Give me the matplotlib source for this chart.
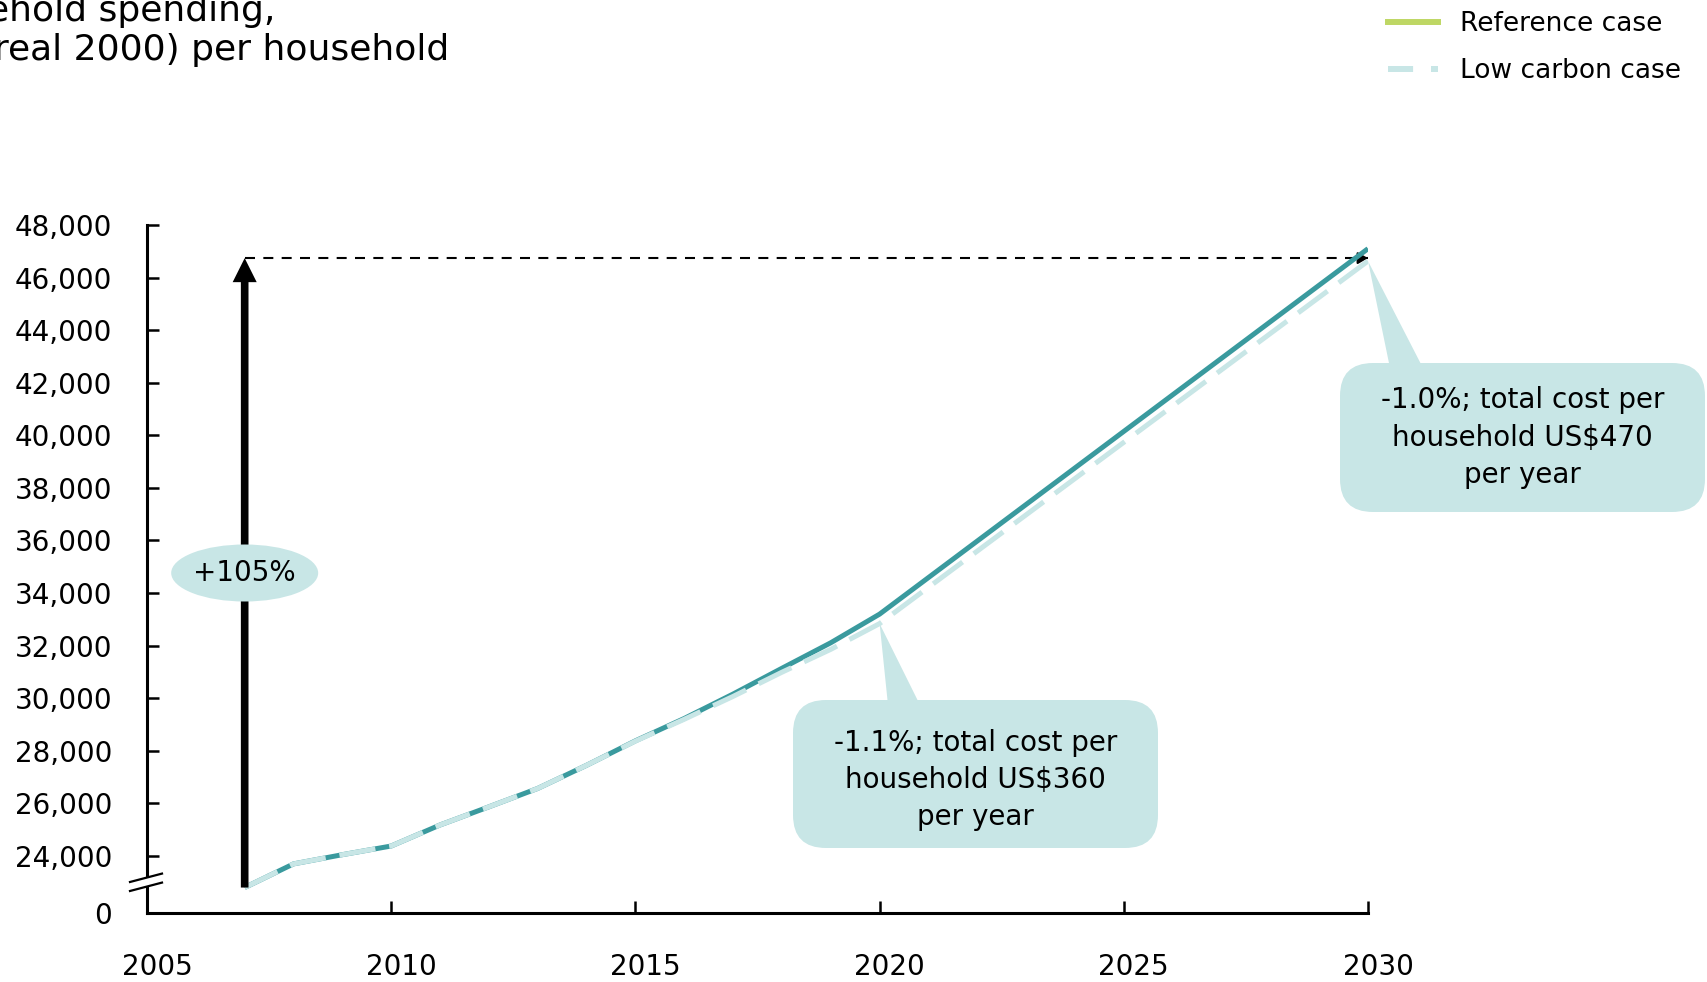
"""Household spending per household: reference vs low carbon case"""
import matplotlib
matplotlib.use('Agg')
import matplotlib.pyplot as plt
import matplotlib.transforms as mtransforms
from matplotlib.lines import Line2D
from matplotlib.patches import FancyBboxPatch, Ellipse, Polygon

# US$ (real 2000) per household
years = [2007, 2008, 2009, 2010, 2011, 2012, 2013, 2014, 2015, 2016, 2017, 2018, 2019, 2020, 2030]
reference = [22800, 23700, 24050, 24380, 25180, 25870, 26570, 27450, 28380, 29230, 30160, 31140, 32110, 33200, 47100]
low_carbon = [22800, 23700, 24050, 24380, 25180, 25870, 26570, 27450, 28370, 29200, 30070, 30990, 31860, 32840, 46630]
growth_pct = 105
callout_years = [2020, 2030]

ytick_values = list(range(24000, 48001, 2000))
xtick_values = [2005, 2010, 2015, 2020, 2025, 2030]
y_floor = 21832      # where the "0" sits below the axis break
y_break = 23000

TEAL = '#3a9a9e'
LIGHT = '#c8e6e6'
GREEN = '#bed764'

W, H, DPI = 1708, 982, 100
fig = plt.figure(figsize=(W / DPI, H / DPI), dpi=DPI)
ax = fig.add_axes([147 / W, 1 - 913 / H, (1368 - 147) / W, (913 - 225) / H])
ax.set_xlim(2005, 2030)
ax.set_ylim(y_floor, 48000)

for side in ('top', 'right'):
    ax.spines[side].set_visible(False)
for side in ('left', 'bottom'):
    ax.spines[side].set_linewidth(2.2)

ax.set_yticks([y_floor] + ytick_values)
ax.set_yticklabels(['0'] + ['{:,}'.format(v) for v in ytick_values])
ax.set_xticks(xtick_values)
ax.set_xticklabels([str(v) for v in xtick_values])
ax.tick_params(axis='y', direction='in', length=8.6, width=1.8, pad=25, labelsize=20)
ax.tick_params(axis='x', direction='in', length=8.6, width=1.8, pad=29, labelsize=20)
shift = mtransforms.ScaledTranslation(10 / DPI, 0, fig.dpi_scale_trans)
for lab in ax.get_xticklabels():
    lab.set_transform(lab.get_transform() + shift)


def px_to_data(px, py):
    """pixel position (from top-left of the image) -> data coords"""
    return ax.transData.inverted().transform((px, H - py))


# the two series
ax.plot(years, reference, color=TEAL, lw=3.6, zorder=3, solid_capstyle='butt')
ax.plot(years, low_carbon, color=LIGHT, lw=3.6, zorder=4,
        linestyle=(0, (7.3, 2.8)), dash_capstyle='butt')

# growth arrow from first year and target line
arrow_top = reference[0] * (1 + growth_pct / 100.)
ax.annotate('', xy=(years[0], arrow_top), xytext=(years[0], reference[0]),
            arrowprops=dict(width=5.5, headwidth=17.3, headlength=17.3,
                            facecolor='black', edgecolor='none', shrink=0),
            zorder=5)
ax.plot([years[0], years[-1]], [arrow_top, arrow_top], color='black', lw=1.5,
        linestyle=(0, (4.8, 4.0)), zorder=2)
ax.annotate('', xy=(years[-1], arrow_top), xytext=(years[-1] - 0.25, arrow_top),
            arrowprops=dict(arrowstyle='-|>,head_length=0.6,head_width=0.35', color='black',
                            lw=1.5, mutation_scale=10, shrinkA=0, shrinkB=0), zorder=2)

ex, ey = px_to_data(242, 573)
ew = px_to_data(242 + 147, 573)[0] - px_to_data(242, 573)[0]
eh = px_to_data(242, 573 - 57)[1] - ey
ax.add_patch(Ellipse((years[0], ey), ew, eh, facecolor=LIGHT, edgecolor='none', zorder=6))
ax.text(years[0], ey, '+{}%'.format(growth_pct), ha='center', va='center', fontsize=20, zorder=7)

# axis break on the y axis
bx, by = ax.transData.transform((2005, y_break))
gap0 = px_to_data(bx, H - by + 5)
gap1 = px_to_data(bx, H - by - 5)
ax.plot([2005, 2005], [gap0[1], gap1[1]], color='white', lw=4, zorder=8, clip_on=False,
        solid_capstyle='butt')
for off in (-4.5, 4.5):
    p0 = px_to_data(bx - 17, H - by + off + 4.2)
    p1 = px_to_data(bx + 15, H - by + off - 4.2)
    ax.plot([p0[0], p1[0]], [p0[1], p1[1]], color='black', lw=1.6, zorder=9, clip_on=False)

# callouts: box extents in image pixels, wedge base on the box top, text nudge
boxes = [(793, 700, 1158, 848, 888, 920, 6), (1340, 363, 1705, 512, 1390, 1423, 0)]
xscale = 1 / (ax.transData.transform((1, 0))[0] - ax.transData.transform((0, 0))[0])
yscale = 1 / (ax.transData.transform((0, 1))[1] - ax.transData.transform((0, 0))[1])
for yr, (l, t, r, b, w0, w1, nudge) in zip(callout_years, boxes):
    i = years.index(yr)
    ref, low = reference[i], low_carbon[i]
    pct = (low - ref) / ref * 100
    cost = ref - low
    x0, y0 = px_to_data(l, b)
    x1, y1 = px_to_data(r, t)
    ax.add_patch(FancyBboxPatch((x0, y0), x1 - x0, y1 - y0,
                                boxstyle='round,pad=0,rounding_size={}'.format(33 * xscale),
                                mutation_aspect=yscale / xscale,
                                facecolor=LIGHT, edgecolor='none', clip_on=False, zorder=1))
    b0 = px_to_data(w0, t + 5)
    b1 = px_to_data(w1, t + 5)
    ax.add_patch(Polygon([(yr, low), b0, b1], closed=True, facecolor=LIGHT,
                         edgecolor='none', clip_on=False, zorder=1))
    tx, ty = px_to_data((l + r) / 2, (t + b) / 2 + nudge)
    ax.text(tx, ty,
            '{:.1f}%; total cost per\nhousehold US${:,.0f}\nper year'.format(pct, cost),
            ha='center', va='center', fontsize=20, linespacing=1.42, zorder=7, clip_on=False)

# legend
handles = [Line2D([], [], color=GREEN, lw=4.3),
           Line2D([], [], color=LIGHT, lw=4.3, linestyle=(0, (4.2, 3.0)))]
fig.legend(handles, ['Reference case', 'Low carbon case'], loc='upper left',
           bbox_to_anchor=(1388 / W, 1 - 11 / H), frameon=False, fontsize=19,
           handlelength=1.9, handletextpad=0.83, labelspacing=0.8,
           borderaxespad=0, borderpad=0)

fig.text(-104 / W, 1 - 60 / H, 'Household spending,\nUS$ (real 2000) per household',
         fontsize=26, ha='left', va='baseline', linespacing=1.18)

fig.savefig('out.png', dpi=DPI)
